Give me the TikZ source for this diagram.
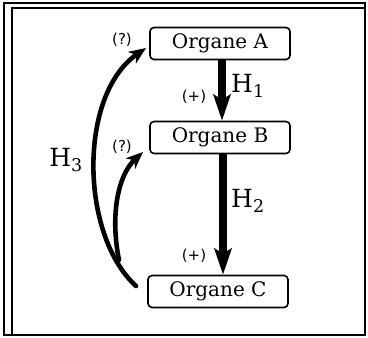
\documentclass[tikz,border=0pt]{standalone}
\usepackage{fontspec}
\setmainfont{DejaVu Serif}
\newfontfamily\labsans{DejaVu Sans}
\usetikzlibrary{arrows.meta}
\begin{document}
\begin{tikzpicture}[x=1pt,y=-1pt,
  organ/.style={draw,line width=1.6pt,rounded corners=4pt,minimum width=140pt,minimum height=32pt,inner sep=0pt,font=\fontsize{20}{22}\selectfont},
  hlab/.style={font=\fontsize{25}{27}\selectfont,inner sep=0pt},
  sign/.style={font=\labsans\fontsize{15}{17}\selectfont,inner sep=0pt},
  bigarrow/.style={line width=8pt,-{Stealth[length=26pt,width=17pt,inset=5pt]}},
  curvearrow/.style={line width=4.6pt,line cap=round,-{Stealth[length=17pt,width=14pt,inset=5pt]}}]
\useasboundingbox (0,0) rectangle (368,338);
% frame
\draw[line width=1.6pt] (4,3) rectangle (365,335);
\draw[line width=1.1pt] (12,335) -- (12,8) -- (365,8);
% nodes
\node[organ] (A) at (220,43.5) {Organe A};
\node[organ] (B) at (220,137.5) {Organe B};
\node[organ] (C) at (218,291.5) {Organe C};
% vertical arrows
\draw[bigarrow] (A.south -| 222,0) -- (B.north -| 222,0);
\draw[bigarrow] (B.south -| 223,0) -- (C.north -| 223,0);
% labels
\node[hlab,anchor=west] (h1) at (231,86) {H\textsubscript{1}};
\node[hlab,anchor=west] (h2) at (231,201) {H\textsubscript{2}};
\node[hlab] (h3) at (66,160) {H\textsubscript{3}};
\node[sign] (p1) at (194,97) {(+)};
\node[sign] (p2) at (194,256) {(+)};
\node[sign] (q1) at (122,40) {(?)};
\node[sign] (q2) at (122,147) {(?)};
% curved arrows
\coordinate (cs) at (136,286);
\coordinate (ca) at (146,48);
\coordinate (bs) at (119,260);
\coordinate (cb) at (143,152);
\draw[curvearrow] (cs) .. controls (80,235) and (78,95) .. (ca);
\draw[curvearrow] (bs) .. controls (110,215) and (118,175) .. (cb);
\end{tikzpicture}
\end{document}
